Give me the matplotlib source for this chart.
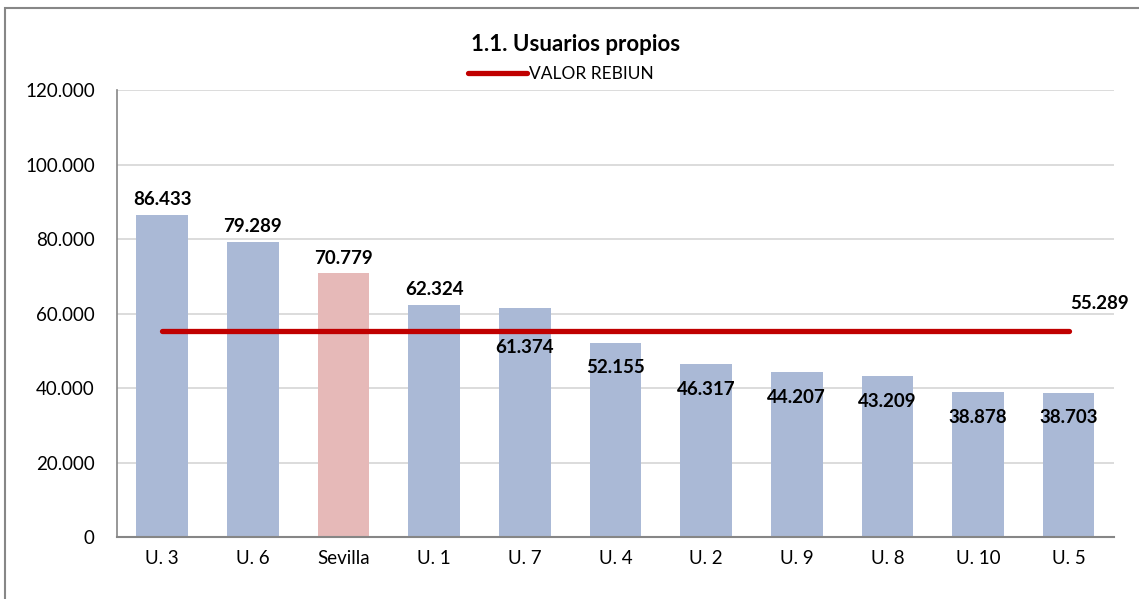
import matplotlib.pyplot as plt
from matplotlib.patches import Rectangle
from matplotlib.ticker import FuncFormatter

plt.rcParams['font.family'] = ['Lato', 'DejaVu Sans']

# datos
universidades = ['U. 3', 'U. 6', 'Sevilla', 'U. 1', 'U. 7', 'U. 4', 'U. 2', 'U. 9', 'U. 8', 'U. 10', 'U. 5']
usuarios = [86433, 79289, 70779, 62324, 61374, 52155, 46317, 44207, 43209, 38878, 38703]
valor_rebiun = 55289
# desplazamiento vertical (pt) de cada etiqueta respecto a la parte alta de la barra
label_offset = [11, 11, 11, 11, -28, -18, -18, -18, -18, -18, -18]

def miles(v, pos=None):
    return f'{int(v):,}'.replace(',', '.')

fig = plt.figure(figsize=(11.39, 5.99), dpi=100)
ax = fig.add_axes([0.1027, 0.1035, 0.8753, 0.7462])

colores = ['#E6B9B8' if u == 'Sevilla' else '#AAB9D6' for u in universidades]
x = range(len(universidades))
ax.bar(x, usuarios, width=0.57, color=colores, zorder=2)

for i, v in enumerate(usuarios):
    ax.annotate(miles(v), (i, v), xytext=(0, label_offset[i]), textcoords='offset points',
                ha='center', va='center', fontsize=13.5, fontweight='bold', zorder=4)

ax.plot([0, len(universidades) - 1], [valor_rebiun, valor_rebiun], color='#C00000',
        lw=3.8, solid_capstyle='round', zorder=3, label='VALOR REBIUN')
ax.annotate(miles(valor_rebiun), (len(universidades) - 1, valor_rebiun), xytext=(22, 20),
            textcoords='offset points', ha='center', va='center',
            fontsize=13.5, fontweight='bold', annotation_clip=False)

ax.set_xlim(-0.5, len(universidades) - 0.5)
ax.set_ylim(0, 120000)
ax.set_yticks(range(0, 120001, 20000))
ax.yaxis.set_major_formatter(FuncFormatter(miles))
ax.set_xticks(list(x))
ax.set_xticklabels(universidades)
ax.tick_params(axis='both', length=0, labelsize=13.5)
ax.tick_params(axis='y', pad=16)
ax.tick_params(axis='x', pad=9)
ax.grid(axis='y', color='#D9D9D9', lw=1.3, zorder=0)
for s in ['top', 'right']:
    ax.spines[s].set_visible(False)
ax.spines['left'].set_color('#868686')
ax.spines['bottom'].set_color('#868686')
ax.spines['left'].set_linewidth(1.2)
ax.spines['bottom'].set_linewidth(1.5)

fig.text(0.505, 0.925, '1.1. Usuarios propios', ha='center', va='center',
         fontsize=16, fontweight='bold')
ax.legend(loc='center', bbox_to_anchor=(0.445, 1.035), frameon=False, fontsize=12.5,
          handlelength=3.4, handletextpad=0.1, borderaxespad=0)

# borde del grafico
fig.patches.append(Rectangle((5 / 1139, -0.1), 1.2, (591 / 599) + 0.1, transform=fig.transFigure,
                             fill=False, edgecolor='#878787', lw=1.5))

fig.savefig('out.png', dpi=100)
